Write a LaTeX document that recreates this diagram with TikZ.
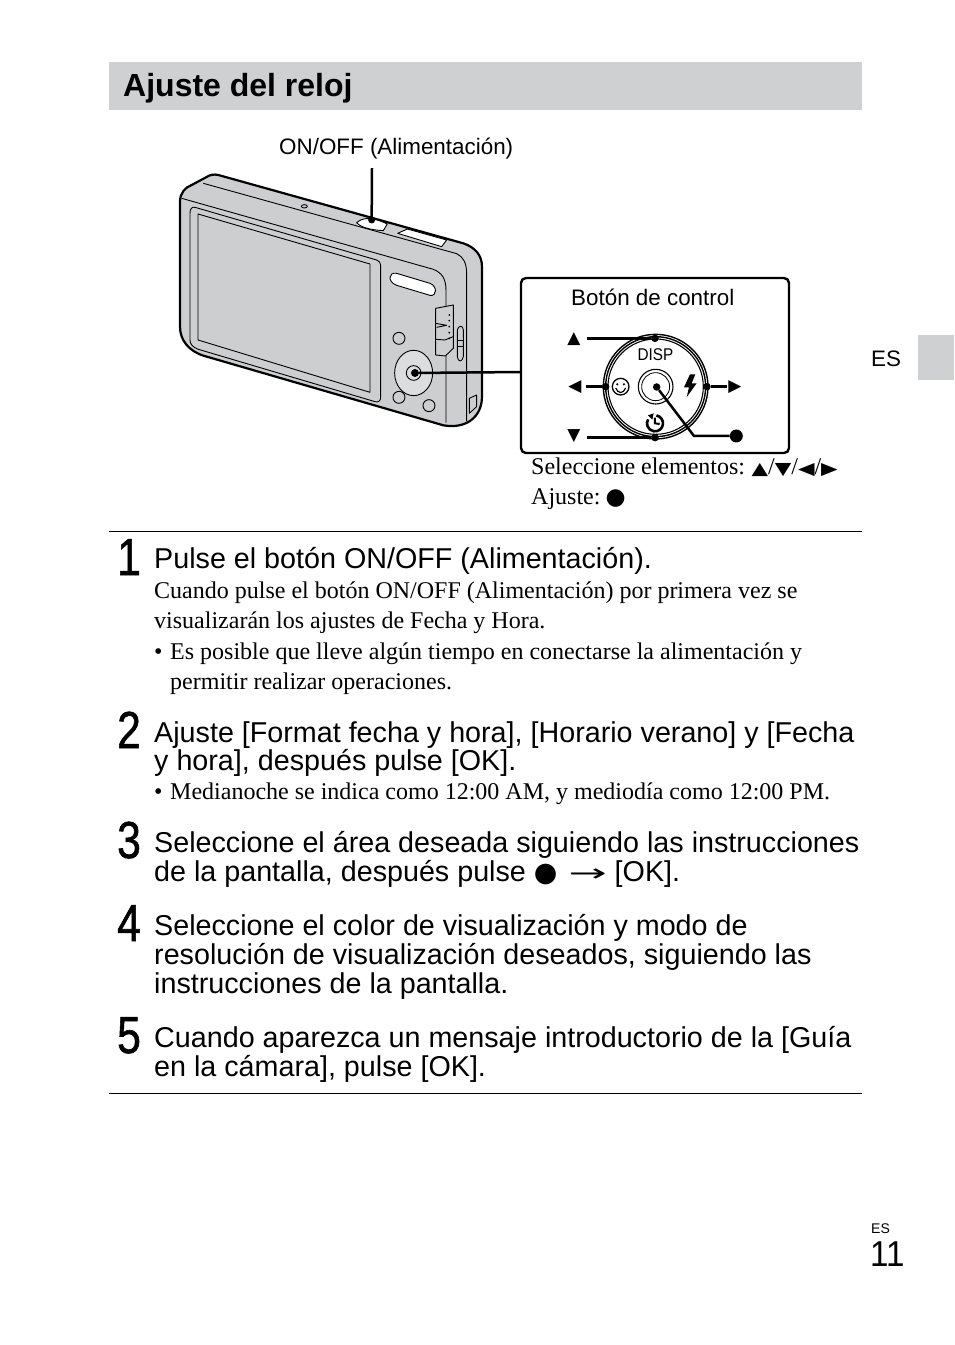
\documentclass[tikz,border=0pt]{standalone}
\usepackage{fontspec}
\setmainfont{Liberation Sans}
\newfontfamily\serifF{Liberation Serif}
\newfontfamily\djv{DejaVu Sans}
\newfontfamily\numF[FakeBold=1.2]{Liberation Sans}
\newcommand{\tri}[1]{\scalebox{1}[.8]{\fontsize{21.5}{21}\djv #1}}
\tikzset{
 hd/.style={anchor=base west,inner sep=0pt,yshift=-0.7pt,font=\fontsize{28.7}{29}\selectfont},
 sr/.style={anchor=base west,inner sep=0pt,font=\fontsize{24}{30}\serifF},
 num/.style={anchor=base west,inner sep=0pt,xscale=.82,font=\fontsize{52}{52}\numF},
 lab/.style={inner sep=0pt,font=\fontsize{22.4}{24}\selectfont},
 cam/.style={line width=.9pt,draw=black,line join=round},
 thick line/.style={line width=2.5pt,draw=black},
 dot/.style={circle,fill=black,inner sep=0pt,minimum size=8pt},
 glyph/.style={inner sep=0pt,font=\fontsize{17}{17}\djv},
}
\definecolor{band}{HTML}{CFD0D1}
\definecolor{body}{HTML}{CDCED0}
\definecolor{wheelc}{HTML}{DCDDDE}
\begin{document}
\begin{tikzpicture}[x=1pt,y=-1pt]
\useasboundingbox (0,0) rectangle (954,1345);
\fill[white] (0,0) rectangle (954,1345);
% header band
\fill[band] (109,62) rectangle (862,110);
\node[anchor=base west,inner sep=0pt,font=\fontsize{32}{34}\selectfont\bfseries] (title) at (123,96) {Ajuste del reloj};
\fill[band] (918,335) rectangle (954,380);
\node[lab,anchor=base west] (es) at (871,366) {ES};
% camera
\begin{scope}[shift={(170,130)},x=0.3333pt,y=-0.3333pt]
\draw[line width=2.2pt,fill=body,line join=round] (145,135) -- (880,340) .. controls (915,352) and (936,375) .. (936,410) -- (936,800) .. controls (936,860) and (890,898) .. (820,886) -- (100,677) .. controls (55,662) and (30,630) .. (30,590) -- (30,215) .. controls (30,190) and (45,172) .. (65,165) -- (108,142) .. controls (120,134) and (132,132) .. (145,135) -- cycle;
\draw[cam] (35,205) -- (790,418) .. controls (815,428) and (828,445) .. (828,480) -- (828,878);
\draw[cam] (100,160) -- (860,371) .. controls (880,380) and (890,400) .. (890,430) -- (890,874);
\draw[cam] (75,232) -- (620,390) .. controls (628,393) and (632,398) .. (632,406) -- (632,802) .. controls (632,813) and (625,818) .. (615,815) -- (85,658) .. controls (68,652) and (60,642) .. (60,630) -- (60,250) .. controls (60,238) and (65,229) .. (75,232) -- cycle;
\draw[cam] (84,252) -- (600,402) -- (600,787) -- (84,630) -- cycle;
\draw[cam] (403,229) ellipse [x radius=9,y radius=5];
% shutter and zoom
\draw[cam,fill=white] (560,278) .. controls (580,260) and (610,262) .. (652,282) -- (640,302) .. controls (610,300) and (575,295) .. (560,278) -- cycle;
\draw[cam,fill=white] (683,310) -- (712,297) -- (830,330) -- (815,350) -- cycle;
% flash
\draw[cam,fill=white] (680,430) -- (780,460) .. controls (802,468) and (802,500) .. (780,496) -- (680,466) .. controls (652,456) and (655,425) .. (680,430) -- cycle;
% mode switch
\draw[cam,fill=body] (797,535) -- (850,525) -- (850,655) -- (826,678) -- (797,675) -- cycle;
\draw[cam] (797,580) -- (830,586) -- (800,592);
\draw[cam] (797,628) -- (825,630) -- (850,620);
\foreach \yy in {555,572,590,608,625} \fill (838,\yy) circle (3);
\draw[cam] (862,600) .. controls (865,585) and (880,585) .. (880,600) -- (880,680) .. controls (877,697) and (864,697) .. (862,680) -- cycle;
\draw[cam] (862,632) -- (880,632) (862,650) -- (880,650);
% buttons
\draw[cam] (687,625) circle (18);
\draw[cam] (687,802) circle (18);
\draw[cam] (777,827) circle (18);
\draw[cam,fill=wheelc] (731,729) ellipse [x radius=57,y radius=68];
\draw[cam] (731,729) circle (22);
% door
\draw[cam] (898,805) -- (920,795) -- (920,830) -- (898,850) -- cycle;
\coordinate (onoffend) at (605,270);
\coordinate (wheelend) at (735,729);
\end{scope}
\node[lab,anchor=base west] (onofflab) at (279,154) {ON/OFF (Alimentación)};
\coordinate (onofftop) at (372,168);
\draw[thick line] (onofftop) -- (onoffend);
\node[dot,minimum size=7pt] (onoffdot) at (onoffend) {};
\node[dot,minimum size=8pt] (wheeldot) at (wheelend) {};
% control box
\draw[line width=2.4pt,rounded corners=5pt] (521,278) rectangle (789,453);
\coordinate (boxleft) at (521,372);
\draw[thick line] (boxleft) -- (wheeldot);
\node[lab,anchor=base west] (botonlab) at (571,305) {Botón de control};
\begin{scope}[shift={(510,270)},x=0.3333pt,y=-0.3333pt]
\coordinate (c) at (437,350);
\draw[line width=1.4pt] (c) circle (157);
\draw[line width=1.4pt] (c) circle (150);
\draw[line width=1.1pt] (c) circle (143);
\draw[line width=1.1pt] (c) circle (52);
\draw[line width=.8pt] (c) circle (42);
% smiley
\draw[line width=1.3pt] (332,350) circle (25);
\fill (322,343) circle (3.5) (342,343) circle (3.5);
\draw[line width=1.2pt] (317,354) .. controls (324,372) and (340,372) .. (347,354);
% flash
\fill (540,313) -- (522,352) -- (537,352) -- (530,382) -- (560,340) -- (545,340) -- (556,313) -- cycle;
% timer
\draw[line width=2.6pt] (439.2,436.4) arc[start angle=-80,end angle=210,radius=24];
\fill (414,436) -- (431,430) -- (427,449) -- cycle;
\draw[line width=2pt] (435,443) -- (435,460) -- (449,462);
\coordinate (tN) at (435,205);
\coordinate (tW) at (287,350);
\coordinate (tE) at (591,350);
\coordinate (tS) at (435,503);
\coordinate (tC) at (440,351);
\coordinate (lN) at (231,205);
\coordinate (lW) at (228,350);
\coordinate (lE) at (650,350);
\coordinate (lS) at (231,503);
\coordinate (kink) at (552,498);
\coordinate (gN) at (192,206);
\coordinate (gW) at (195,350);
\coordinate (gE) at (675,350);
\coordinate (gS) at (192,498);
\coordinate (gD) at (679,498);
\end{scope}
\node[anchor=base,inner sep=0pt,font=\fontsize{17}{17}\selectfont,xscale=.9] (disp) at (655.5,360) {DISP};
\foreach \n/\p in {dN/tN,dW/tW,dE/tE,dS/tS,dC/tC}{\node[dot,minimum size=7.5pt] (\n) at (\p) {};}
\node[glyph] (up) at (gN) {▲};
\node[glyph] (left) at (gW) {◀};
\node[glyph] (right) at (gE) {▶};
\node[glyph] (down) at (gS) {▼};
\node[circle,fill=black,inner sep=0pt,minimum size=13pt] (set) at (gD) {};
\draw[thick line] (lN) -- (dN);
\draw[thick line] (lW) -- (dW);
\draw[thick line] (dE) -- (lE);
\draw[thick line] (lS) -- (dS);
\draw[thick line] (dC) -- (kink) -- (set);
\node[sr] (sel) at (531,474) {Seleccione elementos:\hspace{-1.5pt} \tri{▲}/\tri{▼}/\tri{◀}/\tri{▶}};
\node[sr] (aj) at (531,504.5) {Ajuste:\hspace{5pt}{\fontsize{23}{23}\djv ●}};
% rules
\draw[line width=1pt] (109,531.5) -- (862,531.5);
\draw[line width=1pt] (109,1093.5) -- (862,1093.5);
% steps
\node[num] (n1) at (117,575) {1};
\node[hd] (s1) at (154,568) {Pulse el botón ON/OFF (Alimentación).};
\node[sr] (s1a) at (154,598) {Cuando pulse el botón ON/OFF (Alimentación) por primera vez se};
\node[sr] (s1b) at (154,628) {visualizarán los ajustes de Fecha y Hora.};
\node[sr] (s1c) at (154,659) {•};
\node[sr] (s1d) at (170,659) {Es posible que lleve algún tiempo en conectarse la alimentación y};
\node[sr] (s1e) at (170,689) {permitir realizar operaciones.};
\node[num] (n2) at (117,748) {2};
\node[hd] (s2a) at (154,741.5) {Ajuste [Format fecha y hora], [Horario verano] y [Fecha};
\node[hd] (s2b) at (154,769.5) {y hora], después pulse [OK].};
\node[sr] (s2c) at (154,799) {•};
\node[sr] (s2d) at (170,799) {Medianoche se indica como 12:00 AM, y mediodía como 12:00 PM.};
\node[num] (n3) at (117,858) {3};
\node[hd] (s3a) at (154,851.5) {Seleccione el área deseada siguiendo las instrucciones};
\node[hd] (s3b) at (154,880.5) {de la pantalla, después pulse {\fontsize{27}{25}\djv ●}\hspace{11pt}\scalebox{1.9}[1]{\fontsize{24}{24}\djv →}\hspace{8pt}[OK].};
\node[num] (n4) at (117,941) {4};
\node[hd] (s4a) at (154,934.5) {Seleccione el color de visualización y modo de};
\node[hd] (s4b) at (154,963.5) {resolución de visualización deseados, siguiendo las};
\node[hd] (s4c) at (154,992.5) {instrucciones de la pantalla.};
\node[num] (n5) at (117,1053) {5};
\node[hd] (s5a) at (154,1046.5) {Cuando aparezca un mensaje introductorio de la [Guía};
\node[hd] (s5b) at (154,1075.5) {en la cámara], pulse [OK].};
% page number
\node[anchor=base west,inner sep=0pt,font=\fontsize{14}{14}\selectfont] (es2) at (871,1233) {ES};
\node[anchor=base west,inner sep=0pt,xscale=.92,font=\fontsize{36}{36}\selectfont] (pg) at (870,1266.5) {11};
\end{tikzpicture}
\end{document}
